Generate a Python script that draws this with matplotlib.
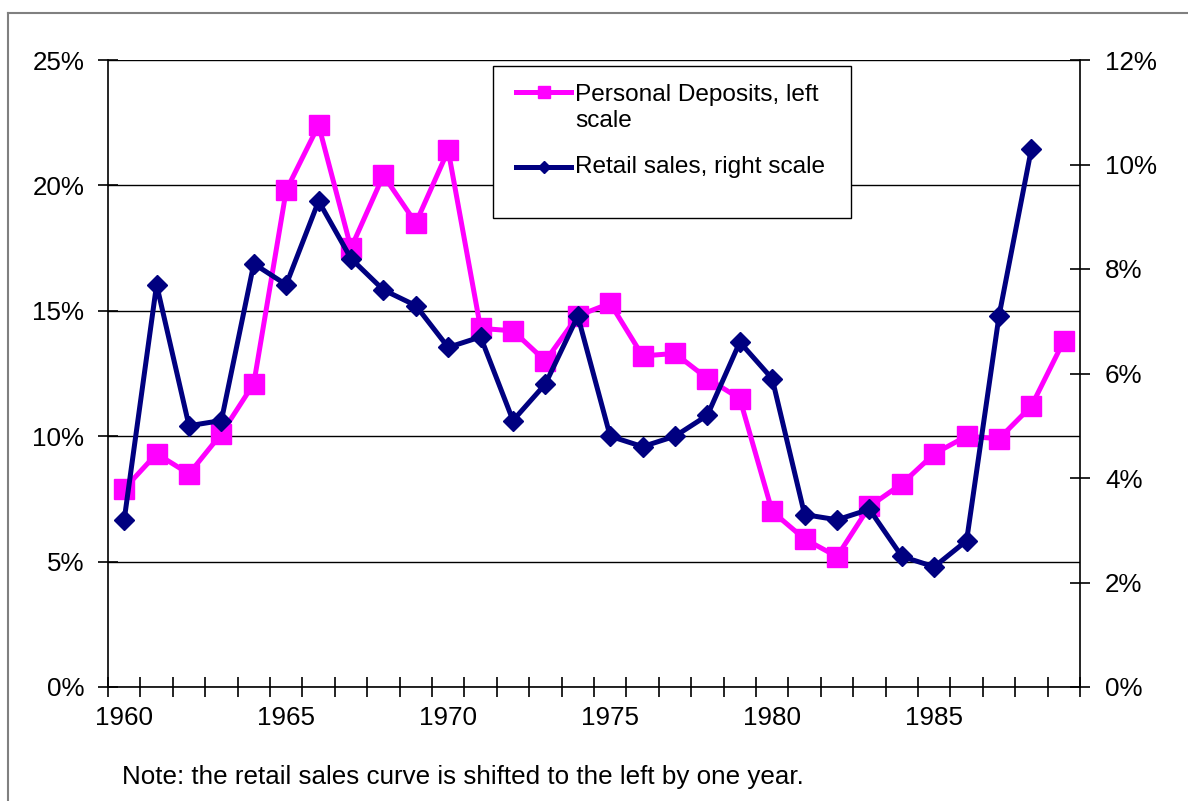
import numpy as np
import matplotlib.pyplot as plt
from matplotlib.lines import Line2D
from matplotlib.patches import Rectangle

plt.rcParams['font.family'] = ['Liberation Sans', 'DejaVu Sans']

# Data (percent)
years = list(range(1960, 1990))
deposits = [7.9, 9.3, 8.5, 10.1, 12.1, 19.8, 22.4, 17.5, 20.4, 18.5,
            21.4, 14.3, 14.2, 13.0, 14.8, 15.3, 13.2, 13.3, 12.3, 11.5,
            7.0, 5.9, 5.2, 7.2, 8.1, 9.3, 10.0, 9.9, 11.2, 13.8]
# retail sales, already shifted one year left (ends 1988)
retail = [3.2, 7.7, 5.0, 5.1, 8.1, 7.7, 9.3, 8.2, 7.6, 7.3,
          6.5, 6.7, 5.1, 5.8, 7.1, 4.8, 4.6, 4.8, 5.2, 6.6,
          5.9, 3.3, 3.2, 3.4, 2.5, 2.3, 2.8, 7.1, 10.3]
left_ticks = [0, 5, 10, 15, 20, 25]
right_ticks = [0, 2, 4, 6, 8, 10, 12]
year_label_every = 5

W, H = 1188, 801
PINK = '#FF00FF'
NAVY = '#000080'
FS = 18.7
LEG_FS = 17.6


def fx(px):
    return px / W


def fy(py):
    return 1 - py / H


fig = plt.figure(figsize=(W / 100, H / 100), dpi=100)
ax = fig.add_axes([fx(108), fy(687), fx(1080) - fx(108), fy(60) - fy(687)])
ax2 = ax.twinx()

x = np.arange(len(years))
ax.plot(x, deposits, color=PINK, lw=3.6, marker='s', markersize=14,
        markeredgecolor=PINK, solid_joinstyle='miter')
ax2.plot(x[:len(retail)], retail, color=NAVY, lw=3.6, marker='D', markersize=10,
         markeredgecolor=NAVY, solid_joinstyle='miter')

# left axis
ax.set_xlim(-0.5, len(years) - 0.5)
ax.set_ylim(0, 25)
ax.set_yticks(left_ticks)
ax.set_yticklabels([f'{v}%' for v in left_ticks], fontsize=FS)
ax.yaxis.grid(True, color='black', lw=1)
ax.set_axisbelow(True)
ax.tick_params(axis='y', direction='inout', length=14, width=1.2, pad=10)

# x axis: labels at category centres, ticks between categories
ax.set_xticks(x[::year_label_every])
ax.set_xticklabels([str(y) for y in years[::year_label_every]], fontsize=FS)
ax.set_xticks(np.arange(-0.5, len(years), 1), minor=True)
ax.tick_params(axis='x', which='major', length=0, pad=14)
ax.tick_params(axis='x', which='minor', direction='inout', length=14, width=1.2)

# right axis
ax2.set_ylim(0, 12)
ax2.set_yticks(right_ticks)
ax2.set_yticklabels([f'{v}%' for v in right_ticks], fontsize=FS)
ax2.tick_params(axis='y', direction='inout', length=14, width=1.2, pad=11)

for a in (ax, ax2):
    a.spines['top'].set_visible(False)
    for s in ('left', 'right', 'bottom'):
        a.spines[s].set_linewidth(1.2)
ax2.spines['left'].set_visible(False)
ax2.spines['bottom'].set_visible(False)
ax.spines['right'].set_visible(False)

# legend drawn by hand so the handle sits on the first text line
fig.add_artist(Rectangle((fx(493), fy(218)), fx(851) - fx(493), fy(66) - fy(218),
                         transform=fig.transFigure, facecolor='white',
                         edgecolor='black', lw=1, zorder=5))
for ly, col, mk, ms in ((92, PINK, 's', 9), (167, NAVY, 'D', 6.5)):
    fig.add_artist(Line2D([fx(516), fx(571)], [fy(ly), fy(ly)], transform=fig.transFigure,
                          color=col, lw=3.6, zorder=6))
    fig.add_artist(Line2D([fx(543.5)], [fy(ly)], transform=fig.transFigure, color=col,
                          marker=mk, markersize=ms, zorder=6))
fig.text(fx(575), fy(127), 'Personal Deposits, left\nscale', fontsize=LEG_FS,
         va='baseline', ha='left', linespacing=1.25, zorder=7)
fig.text(fx(575), fy(173), 'Retail sales, right scale', fontsize=LEG_FS,
         va='baseline', ha='left', zorder=7)

# note and outer frame
fig.text(fx(122), fy(784), 'Note: the retail sales curve is shifted to the left by one year.',
         fontsize=FS, va='baseline', ha='left')
fig.add_artist(Line2D([fx(8), fx(8)], [0, fy(13)], transform=fig.transFigure,
                      color='#808080', lw=1.5))
fig.add_artist(Line2D([fx(8), 1], [fy(13), fy(13)], transform=fig.transFigure,
                      color='#808080', lw=1.5))

fig.savefig('out.png', dpi=100)
